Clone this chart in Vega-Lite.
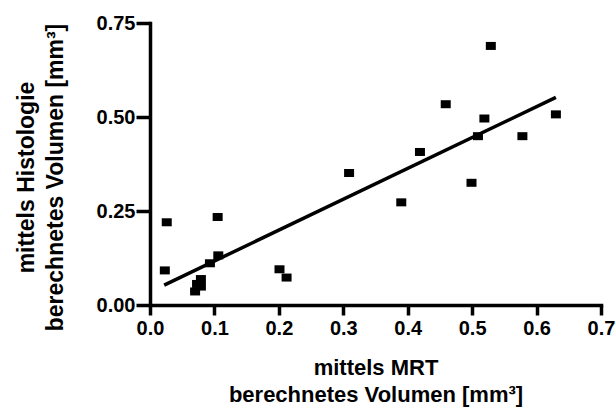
{
  "$schema": "https://vega.github.io/schema/vega-lite/v6.json",
  "autosize": "none",
  "width": 451,
  "height": 282,
  "padding": {"left": 150, "top": 23, "right": 15, "bottom": 105},
  "background": "white",
  "config": {
    "view": {"stroke": null}
  },
  "datasets": {
    "points": [
      {"mrt": 0.026, "hist": 0.220},
      {"mrt": 0.023, "hist": 0.092},
      {"mrt": 0.070, "hist": 0.036},
      {"mrt": 0.073, "hist": 0.056},
      {"mrt": 0.079, "hist": 0.069},
      {"mrt": 0.079, "hist": 0.049},
      {"mrt": 0.093, "hist": 0.111},
      {"mrt": 0.105, "hist": 0.234},
      {"mrt": 0.106, "hist": 0.132},
      {"mrt": 0.201, "hist": 0.095},
      {"mrt": 0.212, "hist": 0.073},
      {"mrt": 0.309, "hist": 0.351},
      {"mrt": 0.390, "hist": 0.273},
      {"mrt": 0.419, "hist": 0.407},
      {"mrt": 0.459, "hist": 0.534},
      {"mrt": 0.499, "hist": 0.325},
      {"mrt": 0.509, "hist": 0.449},
      {"mrt": 0.519, "hist": 0.496},
      {"mrt": 0.529, "hist": 0.689},
      {"mrt": 0.578, "hist": 0.449},
      {"mrt": 0.630, "hist": 0.507}
    ],
    "fit": [
      {"mrt": 0.022, "hist": 0.053},
      {"mrt": 0.630, "hist": 0.552}
    ]
  },
  "encoding": {
    "x": {
      "field": "mrt",
      "type": "quantitative",
      "scale": {"domain": [0, 0.7], "nice": false, "zero": false},
      "axis": {
        "values": [0, 0.1, 0.2, 0.3, 0.4, 0.5, 0.6, 0.7],
        "format": ".1f",
        "grid": false,
        "domainColor": "black",
        "domainWidth": 3.5,
        "domainCap": "square",
        "tickColor": "black",
        "tickWidth": 3.5,
        "tickSize": 10,
        "labelFont": "Liberation Sans",
        "labelFontWeight": "bold",
        "labelFontSize": 20,
        "labelColor": "black",
        "labelPadding": 3,
        "labelFlush": false,
        "title": ["mittels MRT", "berechnetes Volumen [mm³]"],
        "titleFont": "Liberation Sans",
        "titleFontWeight": "bold",
        "titleFontSize": 22,
        "titleColor": "black",
        "titleBaseline": "alphabetic",
        "titleY": 69,
        "titleLineHeight": 27
      }
    },
    "y": {
      "field": "hist",
      "type": "quantitative",
      "scale": {"domain": [0, 0.75], "nice": false, "zero": false},
      "axis": {
        "values": [0, 0.25, 0.5, 0.75],
        "format": ".2f",
        "grid": false,
        "domainColor": "black",
        "domainWidth": 3.5,
        "domainCap": "square",
        "tickColor": "black",
        "tickWidth": 3.5,
        "tickSize": 14,
        "labelFont": "Liberation Sans",
        "labelFontWeight": "bold",
        "labelFontSize": 20,
        "labelColor": "black",
        "labelPadding": 1,
        "labelFlush": false,
        "title": ["mittels Histologie", "berechnetes Volumen [mm³]"],
        "titleFont": "Liberation Sans",
        "titleFontWeight": "bold",
        "titleFontSize": 23,
        "titleColor": "black",
        "titleBaseline": "alphabetic",
        "titleX": -117,
        "titleY": 154,
        "titleLineHeight": 29
      }
    }
  },
  "layer": [
    {
      "data": {"name": "fit"},
      "mark": {"type": "line", "color": "black", "strokeWidth": 3.5}
    },
    {
      "data": {"name": "points"},
      "mark": {"type": "point", "shape": "M-1,-0.8H1V0.8H-1Z", "size": 100, "filled": true, "color": "black", "opacity": 1}
    }
  ]
}
